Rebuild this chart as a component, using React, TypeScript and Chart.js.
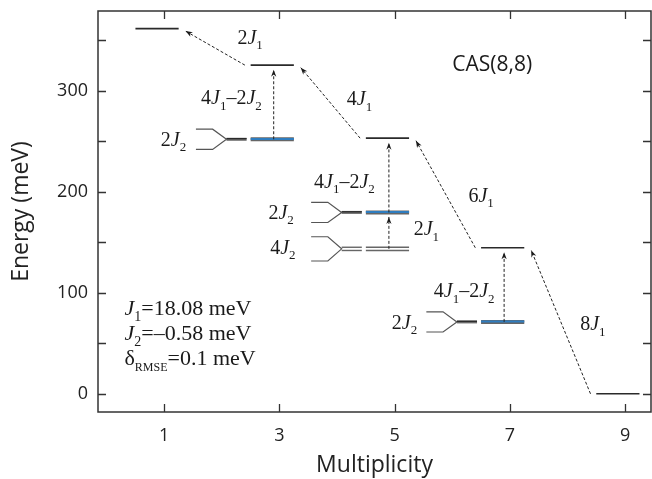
import React, { useEffect, useRef } from "react";
import { Chart, registerables } from "chart.js";

Chart.register(...registerables);

// Spin ladder: multiplicity and energy of the lowest level of each spin state (meV)
const multiplicities = [1, 3, 5, 7, 9];
const ladderEnergies = [361.6, 325.4, 253.1, 144.6, 0];

// Excited levels reached with 4J1-2J2 (drawn in blue)
const blueMultiplicities = [3, 5, 7];
const blueEnergies = [252.0, 179.6, 71.2];

// Quartet-split level (4J2) of the quintet
const splitMultiplicities = [5];
const splitEnergies = [143.5];

// Vertical transitions inside one spin state: multiplicity, lower energy, upper energy
const verticalMult = [3, 5, 5, 7];
const verticalLow = [252.0, 143.5, 179.6, 71.2];
const verticalHigh = [325.4, 179.6, 253.1, 144.6];

const xTickValues = [1, 3, 5, 7, 9];
const yTickValues = [0, 50, 100, 150, 200, 250, 300, 350];
const yLabelValues = [0, 100, 200, 300];

const J1 = "18.08";
const J2 = "–0.58";
const RMSE = "0.1";

type Note = { text: string; x: number; y: number; align: "left" | "right"; size: number };

const notes: Note[] = [
  { text: "2J_1", x: 2.27, y: 346.7, align: "left", size: 20 },
  { text: "4J_1–2J_2", x: 1.64, y: 286.8, align: "left", size: 20 },
  { text: "2J_2", x: 1.38, y: 245.4, align: "right", size: 20 },
  { text: "4J_1", x: 4.17, y: 285.7, align: "left", size: 20 },
  { text: "4J_1–2J_2", x: 3.6, y: 204.2, align: "left", size: 20 },
  { text: "2J_2", x: 3.25, y: 173.4, align: "right", size: 20 },
  { text: "4J_2", x: 3.28, y: 138.8, align: "right", size: 20 },
  { text: "2J_1", x: 5.33, y: 156.9, align: "left", size: 20 },
  { text: "6J_1", x: 6.28, y: 189.9, align: "left", size: 20 },
  { text: "4J_1–2J_2", x: 5.68, y: 95.7, align: "left", size: 20 },
  { text: "2J_2", x: 5.39, y: 64.4, align: "right", size: 20 },
  { text: "8J_1", x: 8.22, y: 62.7, align: "left", size: 20 },
  { text: "J_1=" + J1 + " meV", x: 0.31, y: 77.7, align: "left", size: 22 },
  { text: "J_2=" + J2 + " meV", x: 0.31, y: 52.9, align: "left", size: 22 },
  { text: "δ_{RMSE}=" + RMSE + " meV", x: 0.31, y: 28.1, align: "left", size: 22 },
];

const SERIF = '"Liberation Serif", "DejaVu Serif", serif';
const SANS = '"Open Sans", "Noto Sans", sans-serif';
const INK = "#2a2a2a";
const BLUE = "#2f7dbf";

// level geometry, in axis units relative to the multiplicity
const LEVEL_L = -0.5;
const LEVEL_R = 0.25;
const FORK = [-1.45, -1.16, -0.92, -0.57];
const DOUBLE_GAP = 1.6;

type Seg = { t: string; italic: boolean; sub: boolean };

function parseRich(s: string): Seg[] {
  const out: Seg[] = [];
  let i = 0;
  while (i < s.length) {
    const ch = s[i];
    if (ch === "_") {
      let t = "";
      if (s[i + 1] === "{") {
        const end = s.indexOf("}", i + 2);
        t = s.slice(i + 2, end);
        i = end + 1;
      } else {
        t = s[i + 1];
        i += 2;
      }
      out.push({ t, italic: false, sub: true });
      continue;
    }
    const italic = ch === "J";
    const last = out[out.length - 1];
    if (last && !last.sub && last.italic === italic) last.t += ch;
    else out.push({ t: ch, italic, sub: false });
    i++;
  }
  return out;
}

function segFont(seg: Seg, size: number) {
  const sz = seg.sub ? (seg.t.length > 1 ? Math.round(size * 0.55) : Math.round(size * 0.65)) : size;
  return `${seg.italic ? "italic " : ""}${sz}px ${SERIF}`;
}

function drawRich(ctx: CanvasRenderingContext2D, text: string, x: number, y: number, align: string, size: number) {
  const segs = parseRich(text);
  const widths = segs.map((sg) => {
    ctx.font = segFont(sg, size);
    return ctx.measureText(sg.t).width;
  });
  const total = widths.reduce((a, b) => a + b, 0);
  let cx = align === "right" ? x - total : x;
  ctx.textBaseline = "alphabetic";
  ctx.textAlign = "left";
  segs.forEach((sg, k) => {
    ctx.font = segFont(sg, size);
    const dy = sg.sub ? size * 0.27 : 0;
    ctx.fillText(sg.t, cx, y + dy);
    cx += widths[k];
  });
}

function buildDatasets() {
  const ds: any[] = [];
  const line = (points: { x: number; y: number }[], color: string, width: number, extra: any = {}) => {
    ds.push({
      data: points,
      borderColor: color,
      borderWidth: width,
      pointRadius: 0,
      fill: false,
      tension: 0,
      // later entries are painted on top
      order: -ds.length,
      ...extra,
    });
  };

  // ladder levels
  multiplicities.forEach((m, i) => {
    const e = ladderEnergies[i];
    line([{ x: m + LEVEL_L, y: e }, { x: m + LEVEL_R, y: e }], INK, 1.6);
  });

  // blue levels with their 2J2 forks
  blueMultiplicities.forEach((m, i) => {
    const e = blueEnergies[i];
    const d = 10;
    line(
      [
        { x: m + FORK[0], y: e + d },
        { x: m + FORK[1], y: e + d },
        { x: m + FORK[2], y: e },
        { x: m + FORK[1], y: e - d },
        { x: m + FORK[0], y: e - d },
      ],
      "#555",
      1.2
    );
    line([{ x: m + FORK[2], y: e }, { x: m + FORK[3], y: e }], "#6a6a6a", 3);
    line([{ x: m + FORK[2], y: e + 0.6 }, { x: m + FORK[3], y: e + 0.6 }], "#222", 1.1);
    line([{ x: m + LEVEL_L, y: e }, { x: m + LEVEL_R, y: e }], "#666", 4);
    line([{ x: m + LEVEL_L, y: e + 0.3 }, { x: m + LEVEL_R, y: e + 0.3 }], BLUE, 2);
  });

  // 4J2-split level drawn as a double line
  splitMultiplicities.forEach((m, i) => {
    const e = splitEnergies[i];
    const d = 12;
    line(
      [
        { x: m + FORK[0], y: e + d },
        { x: m + FORK[1], y: e + d },
        { x: m + FORK[2], y: e },
        { x: m + FORK[1], y: e - d },
        { x: m + FORK[0], y: e - d },
      ],
      "#555",
      1.2
    );
    for (const s of [-1, 1]) {
      line([{ x: m + FORK[2], y: e + s * DOUBLE_GAP }, { x: m + FORK[3], y: e + s * DOUBLE_GAP }], "#666", 1.4);
      line([{ x: m + LEVEL_L, y: e + s * DOUBLE_GAP }, { x: m + LEVEL_R, y: e + s * DOUBLE_GAP }], "#666", 1.4);
    }
  });

  // dashed arrows down the ladder
  for (let i = multiplicities.length - 1; i > 0; i--) {
    const m = multiplicities[i];
    const mUp = multiplicities[i - 1];
    line(
      [
        { x: m - 0.6, y: ladderEnergies[i] },
        { x: mUp + 0.37, y: ladderEnergies[i - 1] - 2.5 },
      ],
      "#222",
      1,
      { borderDash: [3, 2], arrowHead: true }
    );
  }

  // dashed vertical excitations
  verticalMult.forEach((m, i) => {
    line(
      [
        { x: m - 0.1, y: verticalLow[i] },
        { x: m - 0.1, y: verticalHigh[i] - 4.5 },
      ],
      "#222",
      1,
      { borderDash: [3, 2], arrowHead: true }
    );
  });

  return ds;
}

const decorations = {
  id: "decorations",
  afterDatasetsDraw(chart: any) {
    const ctx: CanvasRenderingContext2D = chart.ctx;
    const xs = chart.scales.x;
    const ys = chart.scales.y;
    ctx.save();

    // arrow heads
    chart.data.datasets.forEach((d: any, i: number) => {
      if (!d.arrowHead) return;
      const pts = chart.getDatasetMeta(i).data;
      const a = pts[pts.length - 2];
      const b = pts[pts.length - 1];
      const ang = Math.atan2(b.y - a.y, b.x - a.x);
      const L = 7;
      const W = 2.6;
      ctx.fillStyle = "#1a1a1a";
      ctx.beginPath();
      ctx.moveTo(b.x, b.y);
      ctx.lineTo(b.x - L * Math.cos(ang) + W * Math.sin(ang), b.y - L * Math.sin(ang) - W * Math.cos(ang));
      ctx.lineTo(b.x - L * 0.7 * Math.cos(ang), b.y - L * 0.7 * Math.sin(ang));
      ctx.lineTo(b.x - L * Math.cos(ang) - W * Math.sin(ang), b.y - L * Math.sin(ang) + W * Math.cos(ang));
      ctx.closePath();
      ctx.fill();
    });

    // annotation text
    ctx.fillStyle = "#1a1a1a";
    notes.forEach((n) => {
      drawRich(ctx, n.text, xs.getPixelForValue(n.x), ys.getPixelForValue(n.y), n.align, n.size);
    });

    ctx.font = `21px ${SANS}`;
    ctx.textAlign = "left";
    ctx.textBaseline = "middle";
    ctx.fillText("CAS(8,8)", xs.getPixelForValue(6.0), ys.getPixelForValue(325.5));
    ctx.restore();
  },
  afterDraw(chart: any) {
    const ctx: CanvasRenderingContext2D = chart.ctx;
    const { left, right, top, bottom } = chart.chartArea;
    const xs = chart.scales.x;
    const ys = chart.scales.y;
    const T = 8;
    ctx.save();
    ctx.strokeStyle = "#333";
    ctx.lineWidth = 1.5;
    ctx.strokeRect(left, top, right - left, bottom - top);
    ctx.lineWidth = 1.3;
    ctx.beginPath();
    xTickValues.forEach((v) => {
      const px = Math.round(xs.getPixelForValue(v)) + 0.5;
      ctx.moveTo(px, bottom);
      ctx.lineTo(px, bottom - T);
      ctx.moveTo(px, top);
      ctx.lineTo(px, top + T);
    });
    yTickValues.forEach((v) => {
      const py = Math.round(ys.getPixelForValue(v)) + 0.5;
      ctx.moveTo(left, py);
      ctx.lineTo(left + T, py);
      ctx.moveTo(right, py);
      ctx.lineTo(right - T, py);
    });
    ctx.stroke();
    ctx.restore();
  },
};

export default function App() {
  const ref = useRef<HTMLCanvasElement | null>(null);

  useEffect(() => {
    document.body.style.margin = "0";
    const canvas = ref.current;
    if (!canvas) return;
    const chart = new Chart(canvas, {
      type: "line",
      data: { datasets: buildDatasets() },
      options: {
        animation: false,
        responsive: false,
        devicePixelRatio: 1,
        layout: { padding: { top: 11, right: 1, left: 0, bottom: 0 } },
        plugins: { legend: { display: false }, tooltip: { enabled: false } },
        elements: { point: { radius: 0 } },
        scales: {
          x: {
            type: "linear",
            min: -0.15,
            max: 9.45,
            grid: { display: false, drawTicks: false },
            border: { display: false },
            afterBuildTicks: (s: any) => {
              s.ticks = xTickValues.map((v) => ({ value: v }));
            },
            afterFit: (s: any) => {
              s.height = 67;
              s.paddingLeft = 0;
              s.paddingRight = 0;
            },
            ticks: {
              padding: 13,
              color: "#222",
              font: { family: SANS, size: 18 },
              callback: (v: any) => String(v),
            },
            title: {
              display: true,
              text: "Multiplicity",
              color: "#222",
              font: { family: SANS, size: 23 },
              padding: { top: 0, bottom: 0 },
            },
          },
          y: {
            type: "linear",
            min: -18,
            max: 379,
            grid: { display: false, drawTicks: false },
            border: { display: false },
            afterBuildTicks: (s: any) => {
              s.ticks = yTickValues.map((v) => ({ value: v }));
            },
            afterFit: (s: any) => {
              s.width = 98;
              s.paddingTop = 0;
              s.paddingBottom = 0;
            },
            ticks: {
              padding: 10,
              color: "#222",
              font: { family: SANS, size: 18 },
              callback: (v: any) => (yLabelValues.includes(v) ? String(v) : ""),
            },
            title: {
              display: true,
              text: "Energy (meV)",
              color: "#222",
              font: { family: SANS, size: 23 },
              padding: { top: 8, bottom: 0 },
            },
          },
        },
      },
      plugins: [decorations],
    });
    return () => chart.destroy();
  }, []);

  return (
    <div style={{ width: 652, height: 479 }}>
      <canvas ref={ref} width={652} height={479} />
    </div>
  );
}
